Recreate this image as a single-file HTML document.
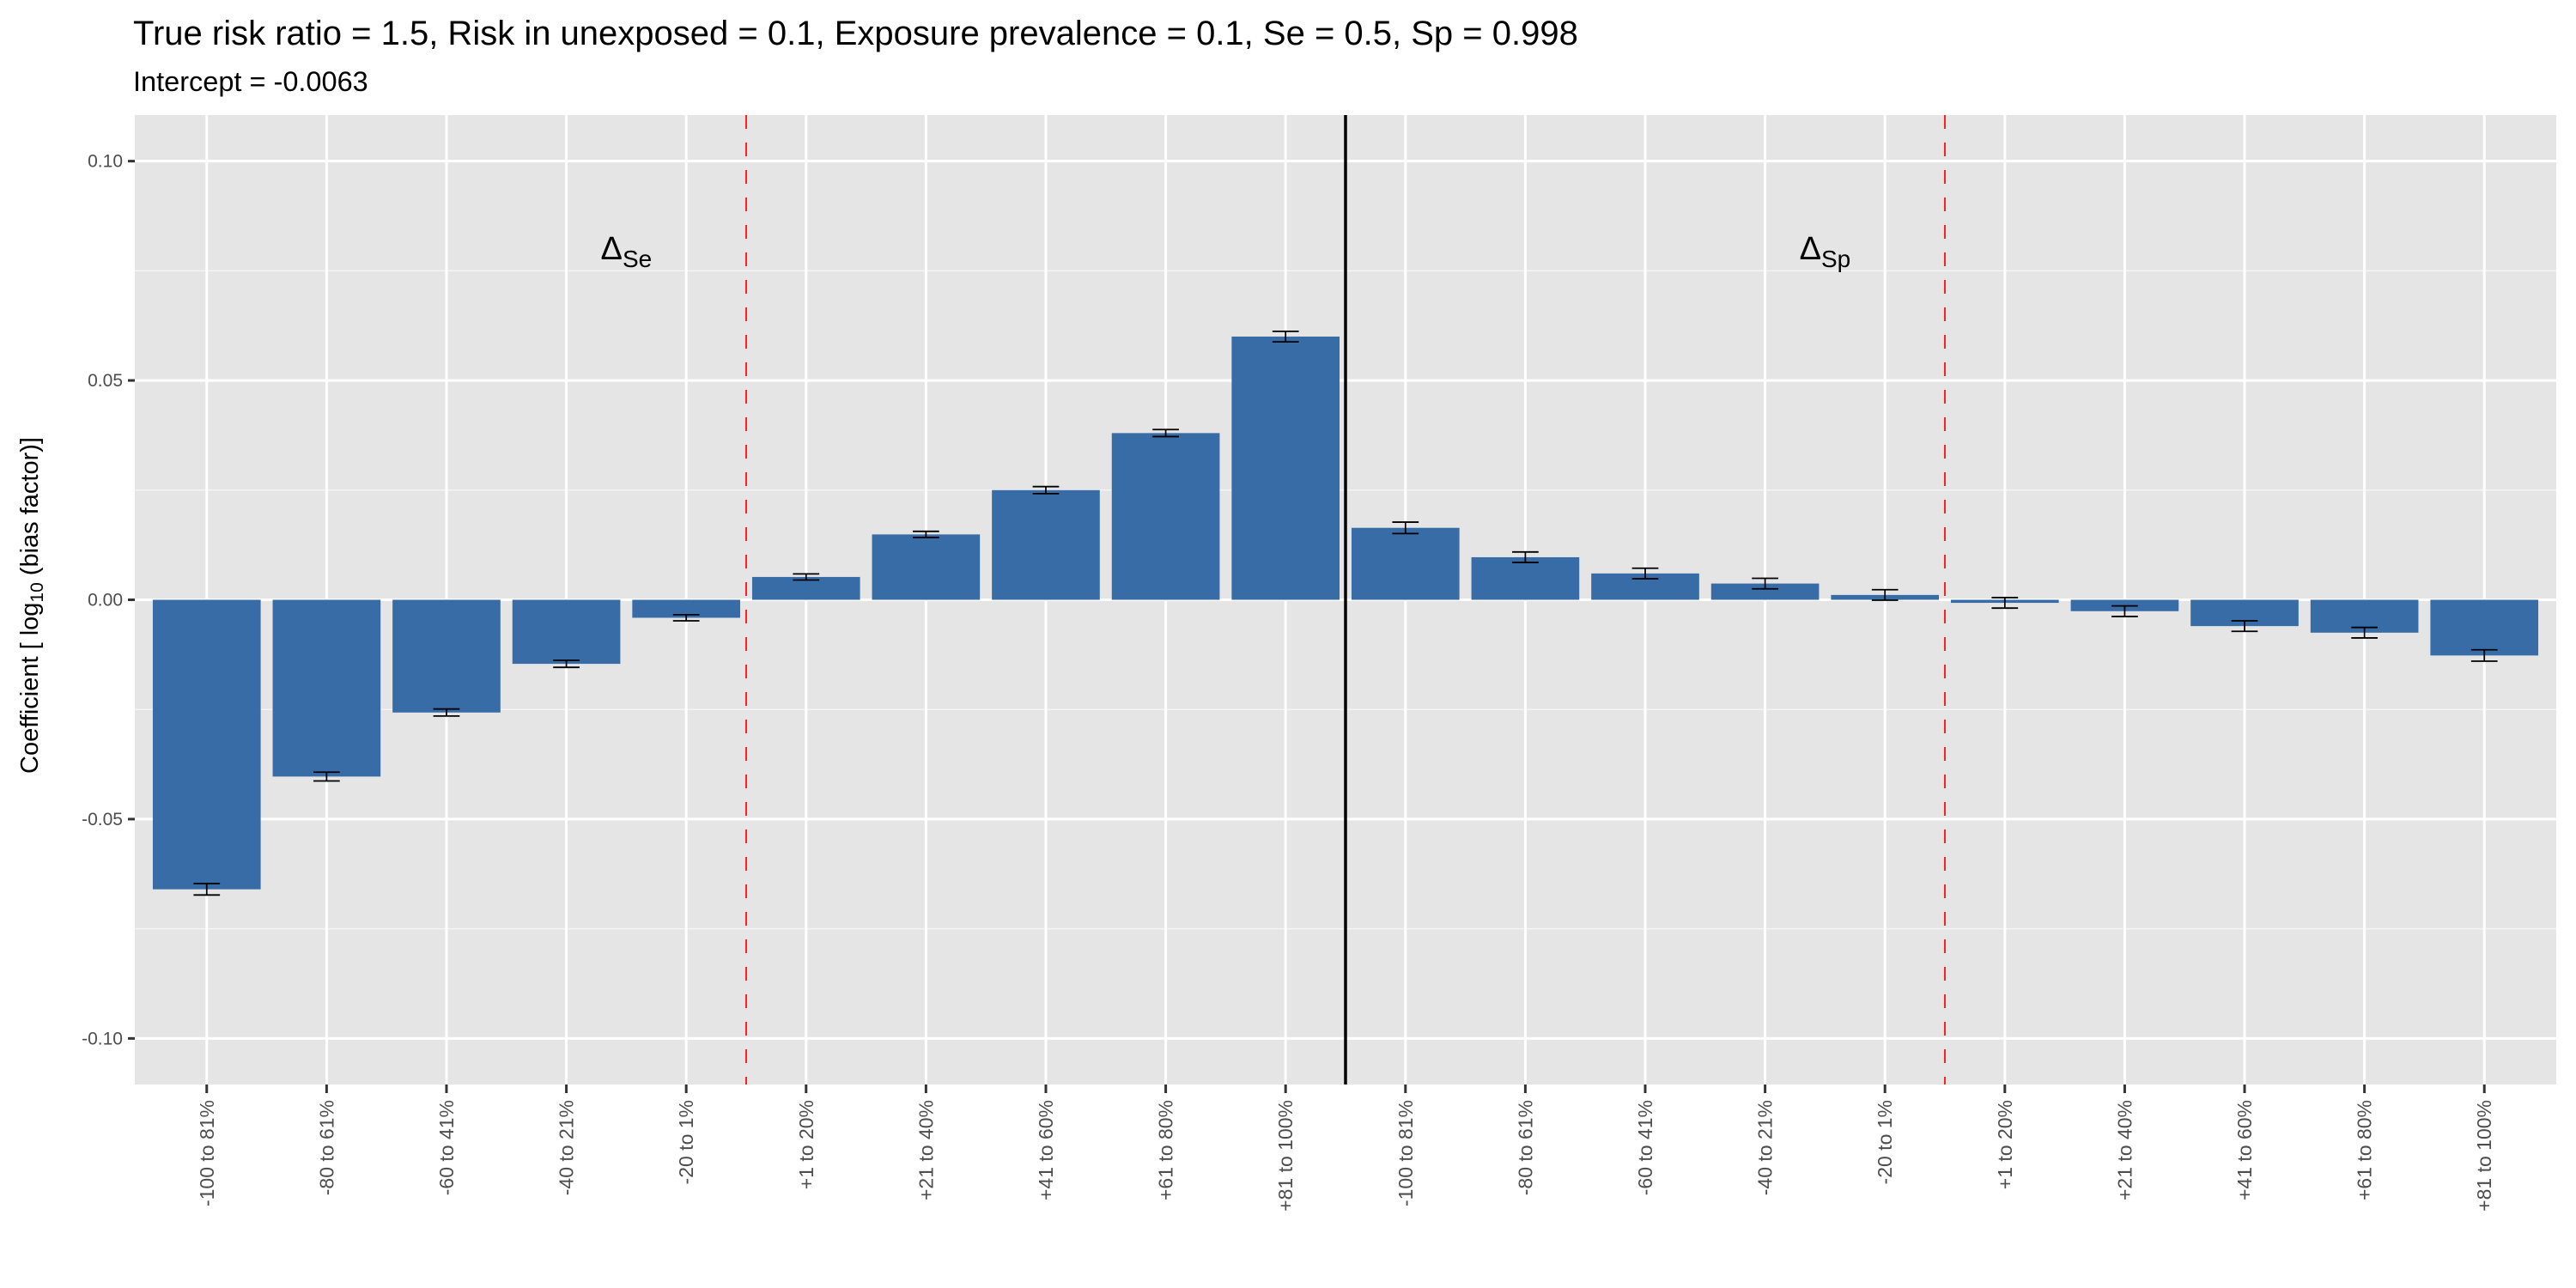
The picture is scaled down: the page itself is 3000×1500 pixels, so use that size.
<!DOCTYPE html>
<html><head><meta charset="utf-8"><style>
html,body{margin:0;padding:0;background:#fff;}
svg{display:block;font-family:"Liberation Sans",sans-serif;}
</style></head><body>
<svg id="chart" width="3000" height="1500" viewBox="0 0 3000 1500" xmlns="http://www.w3.org/2000/svg">
<text x="155" y="52" font-size="40" fill="#000">True risk ratio = 1.5, Risk in unexposed = 0.1, Exposure prevalence = 0.1, Se = 0.5, Sp = 0.998</text>
<text x="155" y="106" font-size="32.5" fill="#000">Intercept = -0.0063</text>
<rect x="157" y="134" width="2820" height="1129" fill="#E5E5E5"/>
<g id="grid"></g>
<g id="bars"></g>
<g id="refs"></g>
<g id="axes"></g>
<text transform="translate(44,705) rotate(-90)" text-anchor="middle" font-size="29" fill="#000">Coefficient [ log<tspan font-size="21" dy="6">10</tspan><tspan dy="-6"> (bias factor)]</tspan></text>
</svg>
<script>
const categories = ["-100 to 81%","-80 to 61%","-60 to 41%","-40 to 21%","-20 to 1%","+1 to 20%","+21 to 40%","+41 to 60%","+61 to 80%","+81 to 100%","-100 to 81%","-80 to 61%","-60 to 41%","-40 to 21%","-20 to 1%","+1 to 20%","+21 to 40%","+41 to 60%","+61 to 80%","+81 to 100%"];
const values = [-0.066,-0.0403,-0.0257,-0.0146,-0.0041,0.0052,0.0149,0.025,0.038,0.060,0.0164,0.0097,0.006,0.0037,0.0011,-0.0007,-0.0026,-0.006,-0.0075,-0.0127];
const errors = [0.0013,0.001,0.0008,0.0008,0.0007,0.0007,0.0007,0.0008,0.0008,0.0012,0.0013,0.0012,0.0012,0.0012,0.0012,0.0012,0.0012,0.0012,0.0012,0.0013];
const yTicks = [-0.10,-0.05,0.00,0.05,0.10];
const yTickLabels = ["-0.10","-0.05","0.00","0.05","0.10"];
const yMinor = [-0.075,-0.025,0.025,0.075];
const dashedPositions = [5.5,15.5];
const solidPositions = [10.5];
const annotations = [{pos:4.5,y:0.08,main:"\u0394",sub:"Se"},{pos:14.5,y:0.08,main:"\u0394",sub:"Sp"}];

const NS="http://www.w3.org/2000/svg";
const PL=157,PR=2977,PT=134,PB=1263;
const yMin=-0.1105,yMax=0.1105;
const n=categories.length;
const step=(PR-PL)/(n-1+1.2);
function xs(p){return PL+(0.6+(p-1))*step;}
function ys(v){return PB-(v-yMin)/(yMax-yMin)*(PB-PT);}
function mk(tag,attrs,parent){const e=document.createElementNS(NS,tag);for(const k in attrs)e.setAttribute(k,attrs[k]);parent.appendChild(e);return e;}
const grid=document.getElementById('grid'),bars=document.getElementById('bars'),refs=document.getElementById('refs'),axes=document.getElementById('axes');

yMinor.forEach(v=>{const l=mk('line',{x1:PL,x2:PR,y1:ys(v),y2:ys(v),stroke:'#f4f4f4','stroke-width':1.5},grid);

});
yTicks.forEach((v,i)=>{const l=mk('line',{x1:PL,x2:PR,y1:ys(v),y2:ys(v),stroke:'#fff','stroke-width':3},grid);


const t=mk('line',{x1:PL-8,x2:PL,y1:ys(v),y2:ys(v),stroke:'#333','stroke-width':3},axes);


const tx=mk('text',{x:PL-14,y:ys(v)+7,'text-anchor':'end','font-size':21,fill:'#4d4d4d'},axes);
tx.textContent=yTickLabels[i];

});
categories.forEach((c,i)=>{const x=xs(i+1);
const g=mk('line',{x1:x,x2:x,y1:PT,y2:PB,stroke:'#fff','stroke-width':3},grid);


const t=mk('line',{x1:x,x2:x,y1:PB,y2:PB+10,stroke:'#333','stroke-width':3},axes);


const tx=mk('text',{transform:`translate(${x+8},${PB+18}) rotate(-90)`,'text-anchor':'end','font-size':23,fill:'#4d4d4d'},axes);
tx.textContent=c;

});
values.forEach((v,i)=>{const x=xs(i+1),w=step*0.9;
const y0=ys(0),y1=ys(v);
const r=mk('rect',{x:x-w/2,y:Math.min(y0,y1),width:w,height:Math.abs(y1-y0),fill:'#386ca6'},bars);


const e=errors[i],ya=ys(v+e),yb=ys(v-e),cw=step*0.11;
const eb=mk('path',{d:`M${x-cw},${ya}H${x+cw}M${x},${ya}V${yb}M${x-cw},${yb}H${x+cw}`,stroke:'#000','stroke-width':1.8,fill:'none'},bars);

});
dashedPositions.forEach(p=>{const l=mk('line',{x1:xs(p),x2:xs(p),y1:PT,y2:PB,stroke:'#ff2020','stroke-width':2,'stroke-dasharray':'16 16'},refs);

});
solidPositions.forEach(p=>{const l=mk('line',{x1:xs(p),x2:xs(p),y1:PT,y2:PB,stroke:'#000','stroke-width':3.5},refs);

});
annotations.forEach(a=>{const t=mk('text',{x:xs(a.pos),y:ys(a.y)+12,'text-anchor':'middle','font-size':38,fill:'#000'},refs);


t.textContent=a.main;
const s=mk('tspan',{'font-size':28,dy:9},t);s.textContent=a.sub;});
</script>
</body></html>
